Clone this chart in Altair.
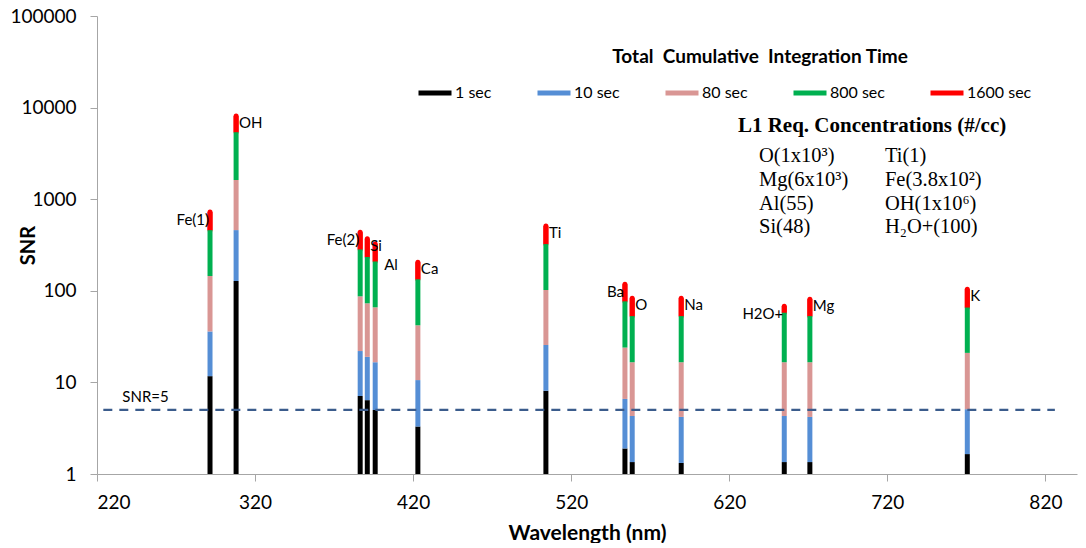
import altair as alt
import pandas as pd

# ---------------- data ----------------
elements = ["Fe(1)", "OH", "Fe(2)", "Si", "Al", "Ca", "Ti", "Ba", "O", "Na", "H2O+", "Mg", "K"]
wavelength_nm = [291.5, 308.0, 386.5, 391.0, 396.0, 423.0, 504.0, 554.0, 558.6, 589.6, 654.8, 671.0, 770.6]
snr_1s = [11.7, 128, 7.1, 6.4, 5.0, 3.3, 8.1, 1.9, 1.35, 1.32, 1.35, 1.35, 1.65]
snr_10s = [36, 460, 22, 19, 16.6, 10.6, 25.6, 6.6, 4.3, 4.2, 4.3, 4.2, 5.1]
snr_80s = [145, 1620, 87, 73, 66, 42, 102, 24, 16.6, 16.6, 16.6, 16.6, 21]
snr_800s = [460, 5400, 284, 234, 210, 134, 324, 77, 53, 53, 58, 53, 66]
snr_1600s = [725, 8100, 435, 370, 324, 205, 510, 118, 83, 83, 68, 81, 104]

series_names = ["1 sec", "10 sec", "80 sec", "800 sec", "1600 sec"]
series_colors = ["#000000", "#558ED5", "#D99694", "#00B050", "#FF0000"]

left_labels = ["Fe(1)", "Fe(2)", "Ba", "H2O+"]
offset_labels = ["Al"]

x_ticks = [220, 320, 420, 520, 620, 720, 820]
y_ticks = [1, 10, 100, 1000, 10000, 100000]

snr_threshold = 5
threshold_span = [224, 826]

legend_title = "Total\u00a0 Cumulative\u00a0 Integration Time"
box_title = "L1 Req. Concentrations (#/cc)"
box_left = ["O(1x10³)", "Mg(6x10³)", "Al(55)", "Si(48)"]
box_right = ["Ti(1)", "Fe(3.8x10²)", "OH(1x10⁶)", "H₂O+(100)"]

# annotation anchors in data units (nm, SNR)
legend_title_at = (639.5, 36000)
box_title_at = (625.5, 6300)
box_left_at = (638.8, 3800)
box_right_at = (718.5, 3800)
snr_label_at = (236, 5)

# ---------------- tables ----------------
series_values = [snr_1s, snr_10s, snr_80s, snr_800s, snr_1600s]
rows = []
for i, el in enumerate(elements):
    lo = 1
    for s, name in enumerate(series_names):
        hi = series_values[s][i]
        rows.append({"element": el, "wl": wavelength_nm[i], "lo": lo, "hi": hi,
                     "series": name, "order": s})
        lo = hi
seg = pd.DataFrame(rows)

labels = pd.DataFrame({"element": elements, "wl": wavelength_nm, "top": snr_1600s})
lab_right = labels[~labels.element.isin(left_labels + offset_labels)]
lab_left = labels[labels.element.isin(left_labels)]
lab_off = labels[labels.element.isin(offset_labels)]

thr = pd.DataFrame({"x0": [threshold_span[0]], "x1": [threshold_span[1]], "snr": [snr_threshold]})

FONT = "Lato"
SERIF = "Liberation Serif"

x_scale = alt.Scale(domain=[220, 840], nice=False, zero=False)
y_scale = alt.Scale(type="log", domain=[1, 100000], nice=False)
color_scale = alt.Scale(domain=series_names, range=series_colors)

x_axis = alt.Axis(values=x_ticks, title="Wavelength (nm)", grid=False,
                  domainColor="#A6A6A6", tickColor="#A6A6A6", tickSize=7,
                  labelFont=FONT, labelFontSize=19, labelColor="#000000", labelPadding=12,
                  titleFont=FONT, titleFontSize=21, titleFontWeight="bold", titleColor="#000000",
                  titleY=59, titleBaseline="middle")
y_axis = alt.Axis(values=y_ticks, format="d", title="SNR", grid=False,
                  domainColor="#A6A6A6", tickColor="#A6A6A6", tickSize=7,
                  labelFont=FONT, labelFontSize=19, labelColor="#000000", labelPadding=14,
                  titleFont=FONT, titleFontSize=20, titleFontWeight="bold", titleColor="#000000",
                  titleX=-69, titleBaseline="middle")

legend = alt.Legend(orient="none", legendX=319, legendY=58, direction="horizontal", columns=5,
                    title=None, symbolType="stroke", symbolStrokeWidth=5, symbolSize=1089,
                    labelFont=FONT, labelFontSize=16, labelColor="#000000", labelOffset=1,
                    columnPadding=35, padding=0)

X = lambda f: alt.X(f, scale=x_scale, axis=x_axis)
Y = lambda f: alt.Y(f, scale=y_scale, axis=y_axis)
C = alt.Color("series:N", scale=color_scale, legend=legend, sort=series_names)

red_caps = alt.Chart(seg[seg.series == "1600 sec"]).mark_rule(strokeWidth=5, strokeCap="round").encode(
    x=X("wl:Q"), y=Y("lo:Q"), y2="hi:Q", color=C,
)

bars = alt.Chart(seg).mark_rule(strokeWidth=5, strokeCap="butt").encode(
    x=X("wl:Q"), y=Y("lo:Q"), y2="hi:Q", color=C, order="order:Q",
)

threshold = alt.Chart(thr).mark_rule(strokeWidth=2.3, color="#3B5C8C", strokeDash=[9, 7]).encode(
    x=X("x0:Q"), x2="x1:Q", y=Y("snr:Q"),
)

def text_layer(df, **kw):
    return alt.Chart(df).mark_text(font=FONT, fontSize=15, color="#000000", baseline="middle", **kw).encode(
        x=X("wl:Q"), y=Y("top:Q"), text="element:N",
    )

t_right = text_layer(lab_right, align="left", dx=3, dy=7)
t_left = text_layer(lab_left, align="right", dx=-1, dy=8)
t_off = text_layer(lab_off, align="left", dx=9, dy=21)

ann = pd.DataFrame({
    "x": [snr_label_at[0], legend_title_at[0], box_title_at[0]],
    "y": [snr_label_at[1], legend_title_at[1], box_title_at[1]],
    "text": ["SNR=5", legend_title, box_title],
})

def ann_layer(i, **kw):
    return alt.Chart(ann.iloc[[i]]).mark_text(color="#000000", **kw).encode(
        x=X("x:Q"), y=Y("y:Q"), text="text:N",
    )

t_snr = ann_layer(0, font=FONT, fontSize=15, align="left", baseline="middle", dy=-13)
t_legtitle = ann_layer(1, font=FONT, fontSize=19, fontWeight="bold", align="center", baseline="middle")
t_boxtitle = ann_layer(2, font=SERIF, fontSize=21, fontWeight="bold", align="left", baseline="middle")

box_df = pd.DataFrame({"x": [box_left_at[0], box_right_at[0]], "y": [box_left_at[1], box_right_at[1]]})

def box_col(i, lines):
    return alt.Chart(box_df.iloc[[i]]).mark_text(
        text=lines, font=SERIF, fontSize=20.5, color="#000000", align="left",
        baseline="top", lineHeight=23.8,
    ).encode(x=X("x:Q"), y=Y("y:Q"))

chart = alt.layer(
    red_caps, bars, threshold, t_right, t_left, t_off, t_snr, t_legtitle, t_boxtitle,
    box_col(0, box_left), box_col(1, box_right),
).properties(
    width=980, height=458,
    padding={"left": 9, "top": 7, "right": 5, "bottom": 0},
    background="white",
).configure_view(stroke=None)

chart.save("out.html", embed_options={"renderer": "svg", "actions": False})
